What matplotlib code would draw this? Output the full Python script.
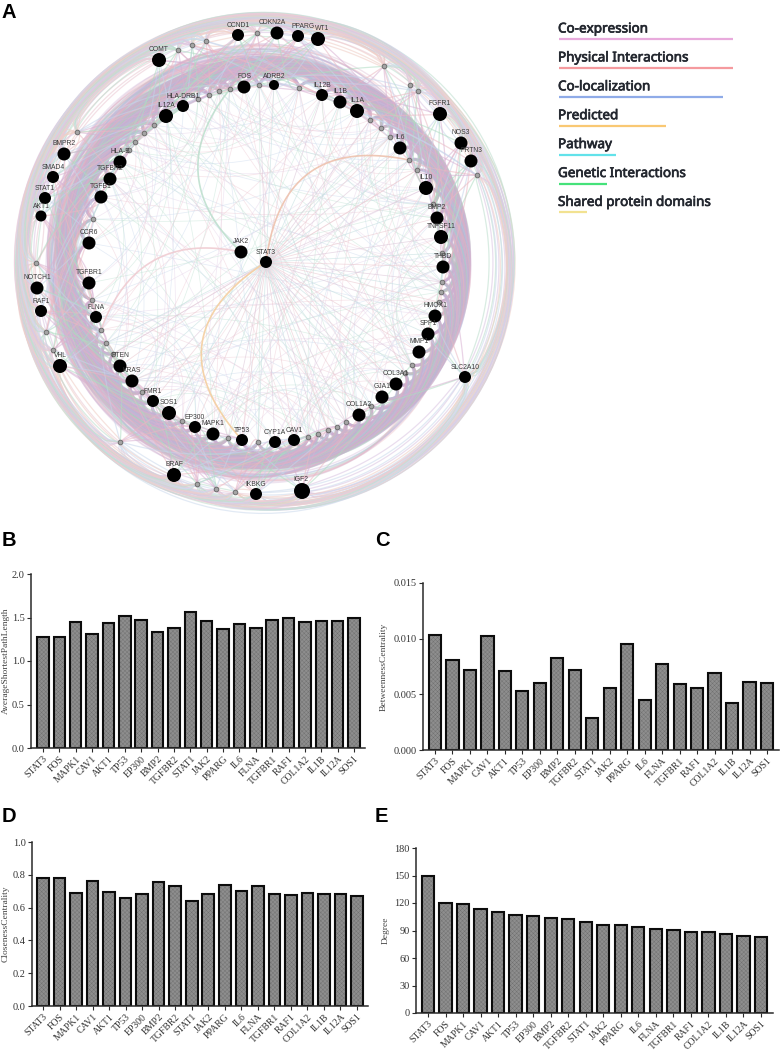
#!/usr/bin/env python3
"""Hub gene network (A) and its four topology bar charts (B-E)."""

import matplotlib
matplotlib.use("Agg")
import matplotlib.patheffects as pe
import matplotlib.pyplot as plt
import numpy as np
from matplotlib.collections import LineCollection

WIDTH, HEIGHT = 782, 1051
CENTER = (265.0, 263.0)

# labelled nodes on the inner ring, clockwise from the top (picture pixels)
inner_names = ["FOS", "ADRB2", "IL12B", "IL1B", "IL1A", "IL6", "IL10", "BMP2", "TNFSF11", "THBD",
               "HMOX1", "SPP1", "MMP1", "COL3A1", "GJA1", "COL1A2", "CAV1", "CYP1A", "TP53", "MAPK1",
               "EP300", "SOS1", "FMR1", "KRAS", "PTEN", "FLNA", "TGFBR1", "CCR6", "TGFB1", "TGFBR2",
               "HLA-B", "IL12A", "HLA-DRB1"]
inner_x = [244, 274, 322, 340, 357, 400, 426, 437, 441, 443,
           435, 428, 419, 396, 382, 359, 294, 275, 242, 213,
           195, 169, 153, 132, 120, 96, 89, 89, 101, 110,
           120, 166, 183]
inner_y = [87, 85, 95, 102, 111, 148, 188, 218, 237, 267,
           316, 334, 352, 384, 397, 415, 440, 442, 440, 434,
           427, 413, 401, 381, 366, 317, 283, 243, 197, 179,
           162, 116, 106]
inner_size = [13, 10, 12, 13, 14, 13, 14, 13, 14, 13,
              13, 13, 13, 13, 13, 13, 12, 12, 12, 13,
              12, 14, 12, 13, 13, 12, 13, 13, 13, 13,
              13, 14, 12]

# labelled nodes outside the ring
outer_names = ["COMT", "CCND1", "CDKN2A", "PPARG", "WT1", "FGFR1", "NOS3", "PRTN3", "SLC2A10",
               "IGF2", "IKBKG", "BRAF", "VHL", "RAF1", "NOTCH1", "AKT1", "STAT1", "SMAD4", "BMPR2"]
outer_x = [159, 238, 277, 298, 318, 440, 461, 471, 465, 302, 256, 174, 60, 41, 37, 41, 45, 53, 64]
outer_y = [60, 35, 33, 36, 39, 114, 143, 161, 377, 491, 494, 475, 366, 311, 288, 216, 198, 177, 154]
outer_size = [14, 12, 13, 12, 14, 14, 13, 13, 12, 16, 12, 14, 14, 12, 13, 11, 12, 12, 13]

# unlabelled small nodes
small_inner_x = [259, 299, 370, 381, 390, 409, 417, 433, 442, 442, 441, 439, 412, 405, 371, 346,
                 337, 328, 318, 308, 258, 228, 182, 142, 113, 106, 101, 92, 93, 129, 135, 144,
                 154, 198, 209, 219, 230]
small_inner_y = [85, 88, 120, 128, 137, 160, 170, 204, 253, 282, 292, 302, 365, 373, 406, 422,
                 427, 430, 434, 437, 442, 438, 421, 392, 354, 343, 330, 300, 219, 150, 142, 133,
                 125, 99, 95, 91, 89]
small_outer_x = [178, 192, 206, 257, 384, 410, 418, 477, 235, 216, 197, 120, 53, 46, 36, 77]
small_outer_y = [50, 45, 41, 33, 66, 85, 91, 175, 492, 489, 484, 442, 350, 332, 263, 132]

hub_names = ["JAK2", "STAT3"]
hub_x = [241, 266]
hub_y = [252, 262]

# labels that sit off the centre of their node in the original
label_shift = {"CDKN2A": -5, "PPARG": 5, "WT1": 4, "IGF2": -1}

# bar panels
genes_bcd = ["STAT3", "FOS", "MAPK1", "CAV1", "AKT1", "TP53", "EP300", "BMP2", "TGFBR2", "STAT1",
             "JAK2", "PPARG", "IL6", "FLNA", "TGFBR1", "RAF1", "COL1A2", "IL1B", "IL12A", "SOS1"]
path_length = [1.28, 1.28, 1.45, 1.31, 1.44, 1.52, 1.47, 1.33, 1.38, 1.56,
               1.46, 1.37, 1.43, 1.38, 1.47, 1.49, 1.45, 1.46, 1.46, 1.50]
betweenness = [0.0103, 0.0081, 0.0072, 0.0102, 0.0071, 0.0053, 0.0060, 0.0083, 0.0072, 0.0029,
               0.0056, 0.0095, 0.0045, 0.0077, 0.0059, 0.0056, 0.0069, 0.0042, 0.0061, 0.0060]
closeness = [0.78, 0.78, 0.69, 0.765, 0.695, 0.66, 0.68, 0.755, 0.73, 0.64,
             0.685, 0.735, 0.70, 0.73, 0.68, 0.675, 0.69, 0.685, 0.685, 0.67]
degree = [149, 120, 119, 114, 110, 107, 106, 104, 103, 99, 96, 96, 94, 92, 91, 88, 88, 86, 84, 83]

legend_names = ["Co-expression", "Physical Interactions", "Co-localization", "Predicted",
                "Pathway", "Genetic Interactions", "Shared protein domains"]
legend_colors = ["#e8aadc", "#f59a9e", "#8fabe8", "#f9c873", "#62e2ea", "#45e27a", "#f2e291"]
legend_ends = [733, 733, 723, 666, 616, 607, 587]

edge_colors = ["#d2adcf", "#cfb2d6", "#b9b3d8", "#ebb3bb", "#d2adcf", "#a6d6bc", "#d8b4cc", "#b0c4e2"]
SERIF = "Liberation Serif"
SANS = "Liberation Sans"


def to_polar(x, y):
    return np.arctan2(y - CENTER[1], x - CENTER[0]), np.hypot(x - CENTER[0], y - CENTER[1])


def ring_curve(a, b, peak, power=0.5):
    """Curve between two nodes that swings out to radius `peak` around the centre."""
    th_a, r_a = to_polar(*a)
    th_b, r_b = to_polar(*b)
    delta = (th_b - th_a + np.pi) % (2 * np.pi) - np.pi
    t = np.linspace(0, 1, 50)
    theta = th_a + delta * t
    r = r_a + (r_b - r_a) * t + (peak - max(r_a, r_b)) * np.sin(np.pi * t) ** power
    return np.column_stack([CENTER[0] + r * np.cos(theta), CENTER[1] + r * np.sin(theta)])


def chord_curve(a, b, pull):
    """Quadratic arc between two nodes, pulled towards the centre."""
    a, b = np.asarray(a, float), np.asarray(b, float)
    control = (a + b) / 2 * (1 - pull) + np.asarray(CENTER) * pull
    t = np.linspace(0, 1, 40)[:, None]
    return (1 - t) ** 2 * a + 2 * t * (1 - t) * control + t ** 2 * b


def bent_curve(a, b, bend):
    """Quadratic arc bent sideways from the straight line a-b by `bend` pixels at its control point."""
    a, b = np.asarray(a, float), np.asarray(b, float)
    normal = np.array([(b - a)[1], -(b - a)[0]]) / np.hypot(*(b - a))
    control = (a + b) / 2 + normal * bend
    t = np.linspace(0, 1, 40)[:, None]
    return (1 - t) ** 2 * a + 2 * t * (1 - t) * control + t ** 2 * b


def add_lines(ax, curves, colors, lw, alpha):
    ax.add_collection(LineCollection(curves, colors=colors, linewidths=lw, alpha=alpha,
                                     capstyle="round", zorder=1))


def draw_network(ax):
    ring_x = np.array(inner_x + small_inner_x, float)
    ring_y = np.array(inner_y + small_inner_y, float)
    order = np.argsort(to_polar(ring_x, ring_y)[0])
    ring = np.column_stack([ring_x, ring_y])[order]
    out_x = np.array(outer_x + small_outer_x, float)
    out_y = np.array(outer_y + small_outer_y, float)
    out_order = np.argsort(to_polar(out_x, out_y)[0])
    outer = np.column_stack([out_x, out_y])[out_order]
    n, m = len(ring), len(outer)

    # arcs across the middle of the circle, spans mixed so no rings show up
    spans = [6, 19, 9, 27, 13, 33, 8, 23, 16, 30, 11]
    curves, colors = [], []
    for i in range(n):
        for s in range(3):
            k = spans[(i * 3 + s * 4) % len(spans)]
            j = (i + k) % n
            pull = 0.2 + 0.05 * ((i * 5 + s) % 7)
            curves.append(chord_curve(ring[i], ring[j], pull))
            colors.append(["#efccd6", "#c4e4d6", "#cddbee", "#e6d4ea"][(i + s) % 4])
    add_lines(ax, curves, colors, 0.55, 0.5)

    # spokes from STAT3, mostly to the right and down
    targets = [p for p in ring if p[0] > 250 or p[1] > 330]
    curves = [np.array([[hub_x[1], hub_y[1]], p]) for p in targets]
    colors = [["#dcc6d8", "#c4dfe0", "#eac8cf"][i % 3] for i in range(len(curves))]
    add_lines(ax, curves, colors, 0.6, 0.6)

    # wider sweeps on the left side of the band
    curves, colors = [], []
    for i in range(n):
        for k in (18, 22, 26, 30):
            j = (i + k) % n
            mid_x = ring_curve(ring[i], ring[j], 200)[25, 0]
            if mid_x < 300:
                peak = 205 + (i * 3 + k) % 16
                curves.append(ring_curve(ring[i], ring[j], peak, 0.45))
                colors.append(edge_colors[(i + k) % len(edge_colors)])
    add_lines(ax, curves, colors, 1.0, 0.35)

    # dense band just outside the ring
    curves, colors = [], []
    for i in range(n):
        for k in range(2, 18):
            j = (i + k) % n
            peak = 185 + 17 * min(k / 12, 1) + (i * 7 + k * 3) % 5
            curves.append(ring_curve(ring[i], ring[j], peak, 0.5))
            colors.append(edge_colors[(i * 3 + k) % len(edge_colors)])
    add_lines(ax, curves, colors, 1.1, 0.42)

    # curves that run along the outer rim
    curves, colors = [], []
    for i in range(m):
        for k in (1, 2, 3, 4, 5, 7, 9, 12, 15, 18):
            j = (i + k) % m
            peak = 224 + 27 * min(k / 5, 1) - (i * 2 + k) % 9
            curves.append(ring_curve(outer[i], outer[j], peak, 0.3))
            colors.append(["#ecccd6", "#c0e0d0", "#dcc8e4", "#cfdcee", "#f0d0c8"][(i + k) % 5])
    add_lines(ax, curves, colors, 0.9, 0.6)

    # connectors from outer nodes down into the band
    curves, colors = [], []
    for i in range(m):
        th = to_polar(*outer[i])[0]
        nearest = np.argsort(np.abs((to_polar(ring[:, 0], ring[:, 1])[0] - th + np.pi) % (2 * np.pi) - np.pi))
        for k in (2, 4, 6, 9, 12, 15, 19):
            curves.append(ring_curve(outer[i], ring[nearest[k]], 210 + (i + k) % 12, 0.8))
            colors.append(["#d8b0d2", "#aedcc2", "#eab8c2", "#c6d4ea"][(i + k) % 4])
    add_lines(ax, curves, colors, 0.9, 0.55)

    # the few strong single arcs inside the circle
    strong = [
        (bent_curve((small_inner_x[36], small_inner_y[36]), (hub_x[0], hub_y[0]), -75), "#bfe0cf"),
        (bent_curve((409, 160), (266, 262), -95), "#eec2ae"),
        (bent_curve((266, 262), (242, 440), -105), "#f4cfa0"),
        (bent_curve((241, 252), (101, 330), -70), "#f0ccd2"),
    ]
    for curve, color in strong:
        add_lines(ax, [curve], [color], 1.2, 0.9)

    # nodes and labels
    all_x = small_inner_x + small_outer_x
    all_y = small_inner_y + small_outer_y
    ax.scatter(all_x, all_y, s=(4.6 * 0.72) ** 2, facecolor="#a5a5a5", edgecolor="#6e6e6e",
               linewidth=0.7, zorder=3)
    names = inner_names + outer_names + hub_names
    xs = inner_x + outer_x + hub_x
    ys = inner_y + outer_y + hub_y
    sizes = inner_size + outer_size + [13, 12]
    ax.scatter(xs, ys, s=[(d * 0.72) ** 2 for d in sizes], color="black", linewidth=0, zorder=4)
    for name, x, y, d in zip(names, xs, ys, sizes):
        ax.text(x + label_shift.get(name, 0), y - d / 2 - 3.8, name, ha="center", va="center",
                fontsize=4.9, family=SANS, color="#3a3a3a", zorder=5)


def bar_panel(fig, box, values, ymax, ticks, ticklabels, ylabel, ylabel_x, first, last):
    left, top, right, bottom = box
    ax = fig.add_axes([left / WIDTH, 1 - bottom / HEIGHT, (right - left) / WIDTH, (bottom - top) / HEIGHT])
    step = (last - first) / 19
    ax.set_xlim(-(first - left) / step, 19 + (right - last) / step)
    ax.set_ylim(0, ymax)
    plt.rcParams["hatch.linewidth"] = 0.3
    ax.bar(range(20), values, width=0.7, facecolor="#8e8e8e", edgecolor="#707070", hatch="xxxxxxxx",
           linewidth=0, zorder=2)
    ax.bar(range(20), values, width=0.7, facecolor="none", edgecolor="#0c0c0c", linewidth=1.5, zorder=3)
    for side in ("top", "right"):
        ax.spines[side].set_visible(False)
    for side in ("left", "bottom"):
        ax.spines[side].set_linewidth(1.1)
        ax.spines[side].set_color("#2a2a2a")
        ax.spines[side].set_zorder(4)
    ax.set_yticks(ticks, labels=ticklabels, family=SERIF, fontsize=7.4, color="#333333")
    ax.set_xticks(range(20))
    ax.set_xticklabels(genes_bcd, rotation=45, ha="right", rotation_mode="anchor",
                       family=SERIF, fontsize=7.0, color="#333333")
    ax.tick_params(length=3, width=0.8, pad=1.5, color="#2a2a2a")
    fig.text(ylabel_x / WIDTH, 1 - (top + bottom) / 2 / HEIGHT, ylabel, rotation=90, ha="center",
             va="center", family=SERIF, fontsize=6.8, color="#444444")
    return ax


def main():
    fig = plt.figure(figsize=(WIDTH / 100, HEIGHT / 100), dpi=100)
    canvas = fig.add_axes([0, 0, 1, 1])
    canvas.set_xlim(0, WIDTH)
    canvas.set_ylim(HEIGHT, 0)
    canvas.axis("off")

    draw_network(canvas)

    for i, (name, color, end) in enumerate(zip(legend_names, legend_colors, legend_ends)):
        y = 29 + i * 28.9
        # the family has no bold face here, a thin stroke gives the weight
        canvas.text(558, y, name, ha="left", va="center", fontsize=9.7, family="Noto Sans",
                    color="#23272f",
                    path_effects=[pe.withStroke(linewidth=0.5, foreground="#23272f")])
        canvas.plot([559, end], [y + 10, y + 10], color=color, lw=1.6, solid_capstyle="butt")

    for letter, x, y in [("A", 2, 13), ("B", 2, 540), ("C", 375, 540), ("D", 2, 816), ("E", 375, 816)]:
        canvas.text(x, y, letter, ha="left", va="center", fontsize=14.5, fontweight="bold", family=SANS)

    bar_panel(fig, (31, 574, 365, 748), path_length, 2.0, [0, 0.5, 1.0, 1.5, 2.0],
              ["0.0", "0.5", "1.0", "1.5", "2.0"], "AverageShortestPathLength", 6, 43, 354)
    bar_panel(fig, (423, 583, 779, 750), betweenness, 0.015, [0, 0.005, 0.01, 0.015],
              ["0.000", "0.005", "0.010", "0.015"], "BetweennessCentrality", 384, 435, 767)
    bar_panel(fig, (32, 842, 368, 1006), closeness, 1.0, [0, 0.2, 0.4, 0.6, 0.8, 1.0],
              ["0.0", "0.2", "0.4", "0.6", "0.8", "1.0"], "ClosenessCentrality", 6, 43, 357)
    bar_panel(fig, (416, 848, 773, 1013), degree, 180, [0, 30, 60, 90, 120, 150, 180],
              ["0", "30", "60", "90", "120", "150", "180"], "Degree", 386, 428, 761)

    fig.savefig("out.png", dpi=100)


if __name__ == "__main__":
    main()
